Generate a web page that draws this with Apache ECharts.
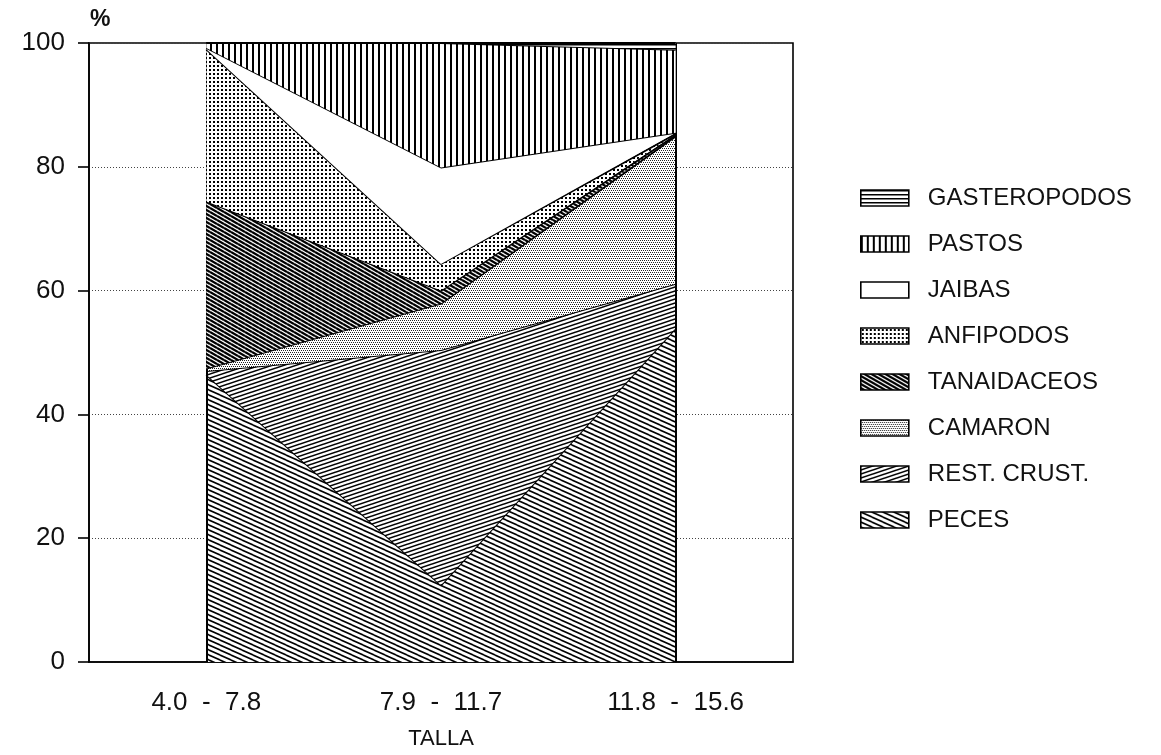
<!DOCTYPE html>
<html>
<head>
<meta charset="utf-8">
<script src="https://cdn.jsdelivr.net/npm/echarts@6/dist/echarts.min.js"></script>
<style>
html,body{margin:0;padding:0;background:#fff;}
#chart{width:1161px;height:755px;}
</style>
</head>
<body>
<div id="chart"></div>
<script>
// ---- data ----
var categories = ['4.0 - 7.8', '7.9 - 11.7', '11.8 - 15.6'];
var yTicks = [0, 20, 40, 60, 80, 100];
var seriesNames = ['PECES', 'REST. CRUST.', 'CAMARON', 'TANAIDACEOS', 'ANFIPODOS', 'JAIBAS', 'PASTOS', 'GASTEROPODOS'];
var peces        = [46.4, 12.4, 53.9];
var restCrust    = [0.6, 38.0, 7.2];
var camaron      = [0.4, 7.5, 23.8];
var tanaidaceos  = [27.0, 2.1, 0.2];
var anfipodos    = [24.6, 4.3, 0.2];
var jaibas       = [0.2, 15.6, 0.2];
var pastos       = [0.8, 20.1, 13.4];
var gasteropodos = [0.0, 0.0, 1.1];
var seriesValues = [peces, restCrust, camaron, tanaidaceos, anfipodos, jaibas, pastos, gasteropodos];

// ---- patterns ----
function mk(w, h) {
  var c = document.createElement('canvas');
  c.width = w; c.height = h;
  var g = c.getContext('2d');
  g.fillStyle = '#fff'; g.fillRect(0, 0, w, h);
  return [c, g];
}
function diagPattern(w, h, up, lw, bg, fg) {
  var r = mk(w, h), c = r[0], g = r[1];
  if (bg) { g.fillStyle = bg; g.fillRect(0, 0, w, h); }
  g.strokeStyle = fg || '#000'; g.lineWidth = lw;
  [-w, 0, w].forEach(function (dx) {
    [-h, 0, h].forEach(function (dy) {
      g.beginPath();
      if (up) { g.moveTo(dx, dy + h); g.lineTo(dx + w, dy); }
      else { g.moveTo(dx, dy); g.lineTo(dx + w, dy + h); }
      g.stroke();
    });
  });
  return { image: c, repeat: 'repeat' };
}
function dotPattern(w, h, pts, s, col) {
  var r = mk(w, h), c = r[0], g = r[1];
  g.fillStyle = col || '#000';
  pts.forEach(function (p) { g.fillRect(p[0], p[1], s, s); });
  return { image: c, repeat: 'repeat' };
}
function vPattern(w, lw) {
  var r = mk(w, 2), c = r[0], g = r[1];
  g.fillStyle = '#000'; g.fillRect(0, 0, lw, 2);
  return { image: c, repeat: 'repeat' };
}
function hPattern(h, lw) {
  var r = mk(2, h), c = r[0], g = r[1];
  g.fillStyle = '#000'; g.fillRect(0, 0, 2, lw);
  return { image: c, repeat: 'repeat' };
}
function white() { var r = mk(2, 2); return { image: r[0], repeat: 'repeat' }; }

var fills = [
  diagPattern(11, 5, false, 1.6),                               // PECES
  diagPattern(12, 4, true, 1.5),                                // REST. CRUST.
  dotPattern(4, 4, [[0, 0], [2, 0], [1, 2], [3, 2]], 1, '#222'), // CAMARON
  diagPattern(7, 4, false, 2.3),                                // TANAIDACEOS
  dotPattern(4, 4, [[1, 1]], 2),                                // ANFIPODOS
  white(),                                                      // JAIBAS
  vPattern(6, 2),                                               // PASTOS
  hPattern(4, 1.5)                                              // GASTEROPODOS
];
var legendFills = fills.slice();
legendFills[3] = diagPattern(7, 4, false, 1.2, '#000', '#fff');

var series = seriesNames.map(function (name, i) {
  var s = {
    name: name,
    type: 'line',
    stack: 'total',
    data: seriesValues[i],
    symbol: 'none',
    silent: true,
    lineStyle: { color: '#000', width: 2 },
    itemStyle: { color: fills[i], borderColor: '#000' },
    areaStyle: { color: fills[i], opacity: 1 },
    z: 2 + i
  };
  if (i === seriesNames.length - 1) {
    s.markLine = {
      silent: true,
      symbol: 'none',
      label: { show: false },
      lineStyle: { color: '#000', width: 2, type: 'solid' },
      data: [{ xAxis: categories[0] }, { xAxis: categories[categories.length - 1] }]
    };
  }
  return s;
});

var legendData = seriesNames.map(function (name, i) {
  return { name: name, itemStyle: { color: legendFills[i], borderColor: '#000', borderWidth: 1.6 } };
}).reverse();

var chart = echarts.init(document.getElementById('chart'), null, { renderer: 'canvas' });
chart.setOption({
  animation: false,
  backgroundColor: '#fff',
  textStyle: { fontFamily: 'Liberation Sans' },
  grid: { left: 89, right: 368, top: 43, bottom: 90, show: true, borderColor: '#000', borderWidth: 1.6, backgroundColor: 'transparent' },
  legend: {
    orient: 'vertical',
    left: 855,
    top: 181,
    icon: 'rect',
    itemWidth: 48,
    itemHeight: 16,
    itemGap: 22,
    selectedMode: false,
    data: legendData,
    textStyle: { fontFamily: 'Liberation Sans', fontSize: 24, color: '#111', padding: [0, 0, 0, 14] }
  },
  xAxis: {
    type: 'category',
    data: categories,
    boundaryGap: true,
    name: 'TALLA',
    nameLocation: 'middle',
    nameGap: 66,
    nameTextStyle: { fontFamily: 'Liberation Sans', fontSize: 22, color: '#111' },
    axisLine: { lineStyle: { color: '#000', width: 1.6 } },
    axisTick: { alignWithLabel: true, length: 11, lineStyle: { color: '#000', width: 1.6 } },
    axisLabel: {
      margin: 28, fontSize: 26, color: '#111', fontFamily: 'Liberation Sans',
      formatter: function (v) { return v.replace(' - ', '  -  '); }
    },
    splitLine: { show: false }
  },
  yAxis: {
    type: 'value',
    min: yTicks[0],
    max: yTicks[yTicks.length - 1],
    interval: yTicks[1] - yTicks[0],
    axisLine: { show: true, lineStyle: { color: '#000', width: 1.6 } },
    axisTick: { show: true, length: 11, lineStyle: { color: '#000', width: 1.6 } },
    axisLabel: { margin: 24, fontSize: 26, color: '#111', fontFamily: 'Liberation Sans' },
    splitLine: { show: true, lineStyle: { color: '#444', width: 1, type: [1, 2] } }
  },
  graphic: [
    { type: 'text', left: 90, top: 8, style: { text: '%', fontSize: 23, fontWeight: 'bold', fill: '#111', fontFamily: 'Liberation Sans' } }
  ],
  series: series
});
</script>
</body>
</html>
